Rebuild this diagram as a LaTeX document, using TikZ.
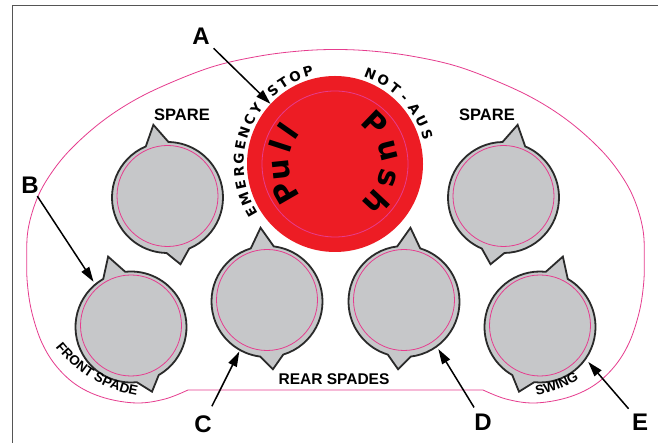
\documentclass[tikz,border=0pt]{standalone}
\usepackage{fontspec}
\setmainfont{Liberation Sans}
\newfontfamily\dvs{DejaVu Sans}
\usetikzlibrary{arrows.meta,calc,decorations.text}
\definecolor{redbtn}{HTML}{ED1C24}
\definecolor{pinkline}{HTML}{E63C8E}
\definecolor{knobgray}{HTML}{C6C7C9}
\definecolor{knobedge}{HTML}{2A2A2A}
\definecolor{framegray}{HTML}{555555}
\tikzset{
  lbl/.style={font=\bfseries\fontsize{24}{24}\selectfont, inner sep=1pt},
  callout/.style={draw=black, line width=1.5pt, -{Triangle[length=15pt,width=9pt]}},
  capt/.style={font=\bfseries\fontsize{16.5}{16.5}\selectfont, inner sep=0pt},
  rimtxt/.style={font=\dvs\bfseries\fontsize{13.5}{13.5}\selectfont, inner sep=0pt, anchor=base},
  pptxt/.style={font=\dvs\bfseries\fontsize{30}{30}\selectfont, inner sep=0pt, anchor=base},
  pinkthin/.style={draw=pinkline, line width=0.8pt},
  knobnode/.style={circle, minimum size=111pt, inner sep=0pt}
}
\newcommand\knobdraw[4]{%
  \begin{scope}[shift={(#2,#3)}]
    \filldraw[fill=knobgray, draw=knobedge, line width=1.8pt, line join=miter]
      ({102+(#4)}:55.5) arc[start angle={102+(#4)}, end angle={258+(#4)}, radius=55.5]
      -- ({270+(#4)}:68) -- ({282+(#4)}:55.5)
      arc[start angle={282+(#4)}, end angle={438+(#4)}, radius=55.5]
      -- ({90+(#4)}:74) -- cycle;
    \draw[pinkthin] (0,1.5) circle[radius=50.5];
  \end{scope}
  \node[knobnode] (#1) at (#2,#3) {};
}
\begin{document}
\begin{tikzpicture}[x=1pt,y=1pt]
\useasboundingbox (0,0) rectangle (658,443);
\clip (0,0) rectangle (658,443);
\fill[white] (0,0) rectangle (658,443);
\draw[framegray, line width=1pt] (12,-5) -- (12,437) -- (665,437);
% outer outline
\draw[pinkthin] plot[smooth, tension=0.6] coordinates {
 (188,53) (165,44) (137,40) (105,45) (78,57) (57,76) (42,100) (32,130) (27.5,158)
 (26.7,183) (28,213) (36.5,243) (50,268) (70,293) (100,320) (133,342) (170,360)
 (215,377) (260,387) (300,392) (335.5,393.5) (371,392) (411,387) (456,377) (501,360)
 (538,342) (571,320) (601,293) (621,268) (634.5,243) (643,213) (644.3,183)
 (643.5,158) (639,130) (629,100) (614,76) (593,57) (566,45) (534,40) (506,44) (483,53)
} -- cycle;
% red button
\node[circle, fill=redbtn, minimum size=176pt, inner sep=0pt] (btn) at (335,279) {};
\draw[pinkthin] (btn.center) circle[radius=73];
\foreach \ch/\ang [count=\i] in {P/210, u/186, l/162, l/145}
  \node[pptxt, rotate=\ang-90] (pull\i) at ($(btn.center)+(\ang:46)$) {\ch};
\foreach \ch/\ang [count=\i] in {P/46, u/14, s/-15, h/-43}
  \node[pptxt, rotate=\ang-90] (push\i) at ($(btn.center)+(\ang:46)$) {\ch};
\foreach \ch/\ang [count=\i] in {E/209.8, M/201.2, E/192.6, R/184.9, G/176.6, E/168.7, N/160.7, C/152.5, Y/144.7, S/130.0, T/122.5, O/114.4, P/106.2}
  \node[rimtxt, rotate=\ang-90] (em\i) at ($(btn.center)+(\ang:91.5)$) {\ch};
\foreach \ch/\ang [count=\i] in {N/68.5, O/60.0, T/51.5, -/43.5, A/34.5, U/26.0, S/17.5}
  \node[rimtxt, rotate=\ang-90] (na\i) at ($(btn.center)+(\ang:91.5)$) {\ch};
% knobs
\knobdraw{spareL}{167.5}{245.5}{11}
\knobdraw{spareR}{503.5}{245.5}{-11}
\knobdraw{front}{131}{116}{18}
\knobdraw{swing}{540}{116}{-18}
\knobdraw{rearC}{267}{141.5}{5}
\knobdraw{rearD}{404}{141.5}{-5}
% captions
\node[capt] (capSL) at (182,328) {SPARE};
\node[capt] (capSR) at (487,328) {SPARE};
\node[capt, font=\bfseries\fontsize{15.5}{15.5}\selectfont] (capRS) at (334,63.5) {REAR SPADES};
\path[decorate, decoration={text along path, text align=center,
  text={|\bfseries\fontsize{13.5}{13.5}\selectfont|FRONT SPADE}}]
  (160.4,178.6) ++(199:133.5) arc[start angle=199, end angle=279, radius=133.5];
\path[decorate, decoration={text along path, text align=center,
  text={|\bfseries\fontsize{13.5}{13.5}\selectfont|SWING}}]
  (510.6,178.6) ++(271:133.5) arc[start angle=271, end angle=311, radius=133.5];
% labels
\node[lbl] (A) at (201,407) {A};
\node[lbl] (B) at (30,258) {B};
\node[lbl] (C) at (203,19) {C};
\node[lbl] (D) at (483,21) {D};
\node[lbl] (E) at (640,21) {E};
\draw[callout, shorten <=4pt] (A) -- (btn.137);
\draw[callout, shorten <=2pt, shorten >=3pt] (B) -- (front.130);
\draw[callout, shorten <=9pt, shorten >=1.5pt] (C) -- (rearC.241);
\draw[callout, shorten <=6pt, shorten >=3pt] (D) -- (rearD.306);
\draw[callout, shorten <=5pt, shorten >=4pt] (E) -- (swing.325);
\end{tikzpicture}
\end{document}
